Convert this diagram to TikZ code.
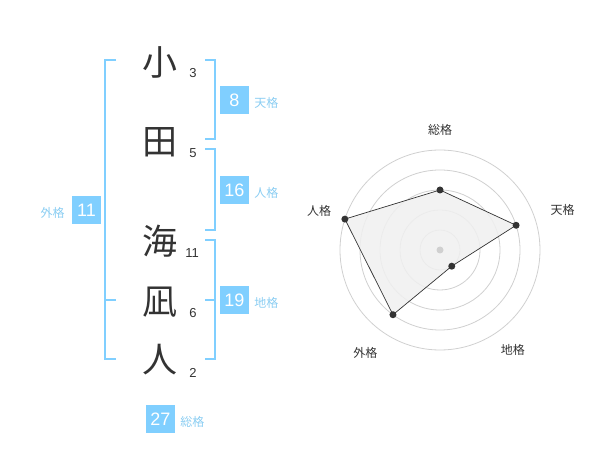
\documentclass[tikz,border=0pt]{standalone}
\usepackage{fontspec}
\setmainfont{Liberation Sans}
\newfontfamily\jp{Noto Sans CJK JP}
\usetikzlibrary{positioning,calc}
\definecolor{sky}{HTML}{80CFFF}
\definecolor{skytext}{HTML}{8ACDF2}
\definecolor{ink}{HTML}{333333}
\definecolor{ring}{HTML}{D0D0D0}
\definecolor{area}{HTML}{F0F0F0}

\begin{document}
\begin{tikzpicture}[x=1pt,y=-1pt,
  kanji/.style={font=\jp\fontsize{35}{35}\selectfont,text=ink,inner sep=0pt},
  strokes/.style={font=\fontsize{13}{13}\selectfont,text=ink,inner sep=0pt},
  score/.style={fill=sky,text=white,font=\fontsize{18}{18}\selectfont,minimum width=29pt,minimum height=28pt,inner sep=0pt},
  kaku/.style={font=\jp\fontsize{12}{12}\selectfont,text=skytext,inner sep=0pt},
  bracket/.style={draw=sky,line width=1.5pt},
  axislabel/.style={font=\jp\fontsize{12}{12}\selectfont,text=ink,inner sep=0pt},
  dot/.style={circle,fill=ink,inner sep=0pt,minimum size=7pt}]
\useasboundingbox (0,0) rectangle (600,470);
% name characters and stroke counts
\node[kanji] (c1) at (160,62) {小};
\node[kanji] (c2) at (160,142) {田};
\node[kanji] (c3) at (160,241) {海};
\node[kanji] (c4) at (160,302) {凪};
\node[kanji] (c5) at (160,360) {人};
\node[strokes] (s1) at (193,73) {3};
\node[strokes] (s2) at (193,153) {5};
\node[strokes] (s3) at (192,253) {11};
\node[strokes] (s4) at (193,313) {6};
\node[strokes] (s5) at (193,373) {2};
% brackets
\draw[bracket] (116,60) -- (105,60) -- (105,359) -- (116,359);
\draw[bracket] (105,300) -- (116,300);
\draw[bracket] (205,60) -- (215,60) -- (215,139) -- (205,139);
\draw[bracket] (205,149) -- (215,149) -- (215,230) -- (205,230);
\draw[bracket] (205,240) -- (215,240) -- (215,359) -- (205,359);
\draw[bracket] (205,300) -- (215,300);
% scores
\node[score] (ten) at (234.5,100) {8};
\node[score] (jin) at (234.5,190) {16};
\node[score] (chi) at (234.5,300) {19};
\node[score] (gai) at (86.5,210) {11};
\node[score] (sou) at (160.5,419) {27};
\node[kaku,right=5pt of ten,yshift=-3pt] {天格};
\node[kaku,right=5pt of jin,yshift=-3pt] {人格};
\node[kaku,right=5pt of chi,yshift=-3pt] {地格};
\node[kaku,left=7pt of gai,yshift=-3pt] {外格};
\node[kaku,right=5pt of sou,yshift=-3pt] {総格};
% radar
\begin{scope}[shift={(440,250)},yscale=-1]
\foreach \r in {20,40,...,100}
  \draw[ring,line width=0.8pt] (0,0) circle (\r);
\coordinate (rsou) at (90:60);
\coordinate (rten) at (18:80);
\coordinate (rchi) at (-54:20);
\coordinate (rgai) at (-126:80);
\coordinate (rjin) at (162:100);
\draw[ink,fill=area,fill opacity=0.85,line width=0.7pt] (rsou) -- (rten) -- (rchi) -- (rgai) -- (rjin) -- cycle;
\node[dot,fill=ring] (mid) at (0,0) {};
\foreach \p in {rsou,rten,rchi,rgai,rjin}
  \node[dot] at (\p) {};
\foreach \a/\d/\t in {90/120/総格,18/129/天格,-54/124/地格,-126/127/外格,162/127/人格}
  \node[axislabel] at (\a:\d) {\t};
\end{scope}
\end{tikzpicture}
\end{document}
